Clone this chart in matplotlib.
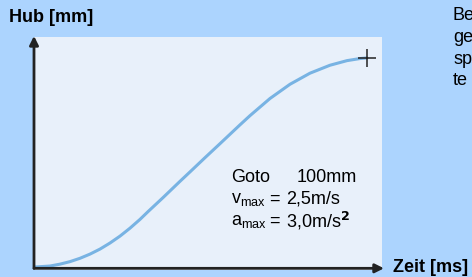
import matplotlib.pyplot as plt

plt.rcParams['font.family'] = ['Liberation Sans', 'DejaVu Sans']

# stroke profile
zeit_ms = [0, 16, 26, 36, 46, 56, 66, 76, 86, 96, 106, 114, 129, 146, 156, 171, 186,
           206, 216, 236, 256, 276, 296, 313, 326, 333]
hub_mm = [0, 0.5, 1.4, 2.6, 4.2, 6.2, 8.6, 11.5, 14.8, 18.6, 22.8, 26.5, 33.2, 41.0, 45.5, 52.3, 59.0,
          68.0, 72.4, 80.6, 87.4, 92.7, 96.5, 98.7, 99.7, 100]

info_labels = ['Goto', 'v$_{\\mathregular{max}}$', 'a$_{\\mathregular{max}}$']
info_values = ['100mm', '2,5m/s', '3,0m/s$^{\\mathbf{2}}$']
side_text = ['Be', 'ge', 'sp', 'te']

W, H = 472, 277
fig = plt.figure(figsize=(W / 100, H / 100), dpi=100)
fig.patch.set_facecolor('#acd4fe')

# panel 34..382 px wide, 37..270 px high
ax = fig.add_axes([34 / W, 1 - 270 / H, (382 - 34) / W, (270 - 37) / H])
ax.set_facecolor('#e8f0fa')
ax.set_xlim(0, 348)
ax.set_ylim(-1.4, 110.0)
for s in ax.spines.values():
    s.set_visible(False)
ax.set_xticks([])
ax.set_yticks([])

ax.plot(zeit_ms, hub_mm, color='#78b3e3', lw=2.2, solid_capstyle='round',
        solid_joinstyle='round', zorder=3)
ax.plot(zeit_ms[-1], hub_mm[-1], marker='+', color='#222222', ms=13, mew=1.1, zorder=4)

# axis arrows
arrow = dict(arrowstyle='-|>', color='#222222', lw=2, mutation_scale=13, shrinkA=0, shrinkB=0)
ax.annotate('', xy=(0, 110.5), xytext=(0, -0.6), arrowprops=arrow, annotation_clip=False)
ax.annotate('', xy=(350, -0.6), xytext=(0, -0.6), arrowprops=arrow, annotation_clip=False)

fig.text(9 / W, 1 - 18 / H, 'Hub [mm]', fontsize=13, fontweight='bold', va='center', ha='left')
fig.text(393 / W, 1 - 268 / H, 'Zeit [ms]', fontsize=13, fontweight='bold', va='center', ha='left')

for i, (lab, val) in enumerate(zip(info_labels, info_values)):
    y = 1 - (177 + i * 22) / H
    fig.text(231 / W, y, lab, fontsize=13, va='center', ha='left')
    if i > 0:
        fig.text(269 / W, y, '=', fontsize=13, va='center', ha='left')
    fig.text((297 if i == 0 else 286) / W, y, val, fontsize=13, va='center', ha='left')

for i, t in enumerate(side_text):
    fig.text(453 / W, 1 - (16 + i * 21.5) / H, t, fontsize=13, va='center', ha='left')

fig.savefig('out.png', dpi=100, facecolor=fig.get_facecolor())
